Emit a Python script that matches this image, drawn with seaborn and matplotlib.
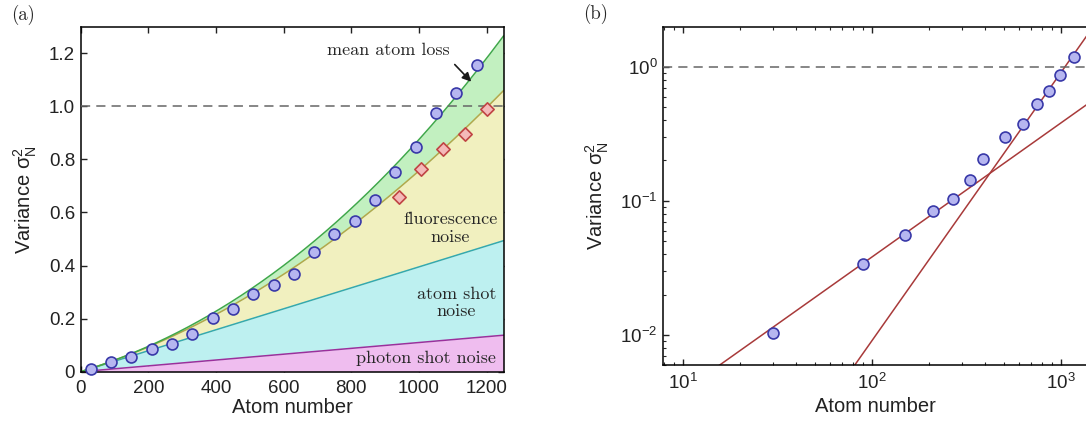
import numpy as np
import pandas as pd
import matplotlib
matplotlib.use("Agg")
import matplotlib.pyplot as plt
import seaborn as sns
from matplotlib.ticker import FixedLocator, FuncFormatter, LogLocator, NullFormatter

# ---------------- data ----------------
atom_number = [30, 90, 150, 210, 270, 330, 390, 450, 510, 570, 630, 690,
               750, 810, 870, 930, 990, 1050, 1110, 1170]
variance = [0.0105, 0.035, 0.057, 0.085, 0.104, 0.141, 0.204, 0.235, 0.293,
            0.327, 0.368, 0.450, 0.518, 0.568, 0.648, 0.754, 0.848, 0.976,
            1.052, 1.155]
diamond_n = [941, 1006, 1071, 1136, 1202]
diamond_var = [0.658, 0.764, 0.839, 0.895, 0.991]

# subset of points shown in panel (b)
log_n = [30, 90, 150, 210, 270, 330, 390, 510, 630, 750, 870, 990, 1170]
log_var = [0.0103, 0.0341, 0.0557, 0.0838, 0.103, 0.142, 0.205, 0.297,
           0.372, 0.527, 0.659, 0.863, 1.175]

# noise-model coefficients (cumulative stacking in panel a)
k_photon = 1.10e-4      # photon shot noise  ~ N
k_atom = 2.85e-4        # atom shot noise    ~ N
k_fluo = 3.62e-7        # fluorescence noise ~ N^2
k_loss = 3.73e-9        # mean atom loss     ~ N^2.5
# fitted asymptotes in panel (b)
lin_coef = 3.8e-4       # ~ N
quad_coef = 9.0e-7      # ~ N^2

x_ticks_a = [0, 200, 400, 600, 800, 1000, 1200]
y_ticks_a = [0, 0.2, 0.4, 0.6, 0.8, 1.0, 1.2]

# ---------------- style ----------------
sns.set_theme(style="ticks")
plt.rcParams["font.family"] = ["Liberation Sans", "DejaVu Sans"]
plt.rcParams["mathtext.fontset"] = "custom"
plt.rcParams["mathtext.rm"] = "Liberation Sans"
plt.rcParams["mathtext.it"] = "Liberation Sans:italic"
plt.rcParams["axes.linewidth"] = 1.1

c_loss_fill, c_loss_line = "#c2f0c0", "#3fa84a"
c_fluo_fill, c_fluo_line = "#f1f0bf", "#b3a84a"
c_atom_fill, c_atom_line = "#bdf0f0", "#33a9b0"
c_phot_fill, c_phot_line = "#efbdef", "#9c2f9c"
c_circ_face, c_circ_edge = "#b6b6f0", "#3838a8"
c_dia_face, c_dia_edge = "#f4b9b9", "#c04444"
c_fit = "#a83a3a"
c_dash = "#666666"

fig = plt.figure(figsize=(10.86, 4.25), dpi=100)
ax1 = fig.add_axes([0.0743, 0.1254, 0.3894, 0.8118])
ax2 = fig.add_axes([0.6108, 0.1412, 0.3984, 0.796])

# ---------------- panel (a) ----------------
N = np.linspace(0, 1250, 400)
photon = k_photon * N
atom = photon + k_atom * N
fluo = atom + k_fluo * N ** 2
loss = fluo + k_loss * N ** 2.5

ax1.fill_between(N, 0, photon, color=c_phot_fill, lw=0)
ax1.fill_between(N, photon, atom, color=c_atom_fill, lw=0)
ax1.fill_between(N, atom, fluo, color=c_fluo_fill, lw=0)
ax1.fill_between(N, fluo, loss, color=c_loss_fill, lw=0)
for yv, col in [(photon, c_phot_line), (atom, c_atom_line),
                (fluo, c_fluo_line), (loss, c_loss_line)]:
    sns.lineplot(x=N, y=yv, color=col, lw=1.1, ax=ax1)

ax1.axhline(1.0, color=c_dash, lw=1.1, dashes=(6, 4), zorder=3)

sns.scatterplot(x=atom_number, y=variance, marker="o", s=62,
                color=c_circ_face, edgecolor=c_circ_edge, linewidth=1.2,
                ax=ax1, zorder=6, clip_on=False)
sns.scatterplot(x=diamond_n, y=diamond_var, marker="D", s=46,
                color=c_dia_face, edgecolor=c_dia_edge, linewidth=1.2,
                ax=ax1, zorder=6, clip_on=False)

serif = dict(fontfamily="cmr10", fontsize=13)
ax1.text(908, 1.21, "mean atom loss", ha="center", va="center", **serif)
ax1.annotate("", xy=(1160, 1.085), xytext=(1100, 1.165),
             arrowprops=dict(arrowstyle="-|>", color="k", lw=1.2,
                             mutation_scale=13))
ax1.text(1092, 0.54, "fluorescence\nnoise", ha="center", va="center",
         linespacing=1.15, **serif)
ax1.text(1110, 0.258, "atom shot\nnoise", ha="center", va="center",
         linespacing=1.15, **serif)
ax1.text(1228, 0.05, "photon shot noise", ha="right", va="center", **serif)

ax1.set_xlim(0, 1250)
ax1.set_ylim(0, 1.3)
ax1.xaxis.set_major_locator(FixedLocator(x_ticks_a))
ax1.yaxis.set_major_locator(FixedLocator(y_ticks_a))
ax1.yaxis.set_major_formatter(FuncFormatter(lambda v, p: "0" if v == 0 else f"{v:.1f}"))
ax1.xaxis.set_major_formatter(FuncFormatter(lambda v, p: f"{int(v)}"))
ax1.tick_params(direction="in", top=True, right=True, length=4, width=1,
                labelsize=13.5, colors="#222222")
ax1.tick_params(axis="x", pad=6)
ax1.tick_params(axis="y", pad=4)
ax1.set_xlabel("Atom number", fontsize=14.5, color="#222222")
ax1.set_ylabel(r"Variance σ$_{\mathregular{N}}^{\mathregular{2}}$",
               fontsize=14.5, color="#222222")
ax1.xaxis.set_label_coords(0.5, -0.075)
ax1.yaxis.set_label_coords(-0.098, 0.5)
for sp in ax1.spines.values():
    sp.set_visible(True)
    sp.set_color("black")

# ---------------- panel (b) ----------------
Nl = np.logspace(0.5, 3.4, 300)
sns.lineplot(x=Nl, y=lin_coef * Nl, color=c_fit, lw=1.1, ax=ax2)
sns.lineplot(x=Nl, y=quad_coef * Nl ** 2, color=c_fit, lw=1.1, ax=ax2)
ax2.axhline(1.0, color=c_dash, lw=1.1, dashes=(6, 4), zorder=3)
sns.scatterplot(x=log_n, y=log_var, marker="o", s=62,
                color=c_circ_face, edgecolor=c_circ_edge, linewidth=1.2,
                ax=ax2, zorder=6)
ax2.set_xscale("log")
ax2.set_yscale("log")
ax2.set_xlim(7.9, 1538)
ax2.set_ylim(0.00597, 1.99)
ax2.xaxis.set_major_locator(LogLocator(base=10, numticks=10))
ax2.yaxis.set_major_locator(LogLocator(base=10, numticks=10))
ax2.xaxis.set_minor_locator(LogLocator(base=10, subs=np.arange(2, 10), numticks=20))
ax2.yaxis.set_minor_locator(LogLocator(base=10, subs=np.arange(2, 10), numticks=20))
ax2.xaxis.set_minor_formatter(NullFormatter())
ax2.yaxis.set_minor_formatter(NullFormatter())
ax2.tick_params(which="major", direction="in", top=True, right=True, length=4,
                width=1, labelsize=13.5, colors="#222222")
ax2.tick_params(which="minor", direction="in", top=True, right=True, length=2.2,
                width=0.8)
ax2.tick_params(axis="x", pad=6)
ax2.tick_params(axis="y", pad=4)
ax2.set_xlabel("Atom number", fontsize=14.5, color="#222222")
ax2.set_ylabel(r"Variance σ$_{\mathregular{N}}^{\mathregular{2}}$",
               fontsize=14.5, color="#222222")
ax2.xaxis.set_label_coords(0.491, -0.095)
ax2.yaxis.set_label_coords(-0.12, 0.5)
for sp in ax2.spines.values():
    sp.set_visible(True)
    sp.set_color("black")

fig.text(0.021, 0.965, "(a)", fontfamily="cmr10", fontsize=13.5, ha="center", va="center")
fig.text(0.548, 0.968, "(b)", fontfamily="cmr10", fontsize=13.5, ha="center", va="center")

fig.savefig("out.png", dpi=100)
